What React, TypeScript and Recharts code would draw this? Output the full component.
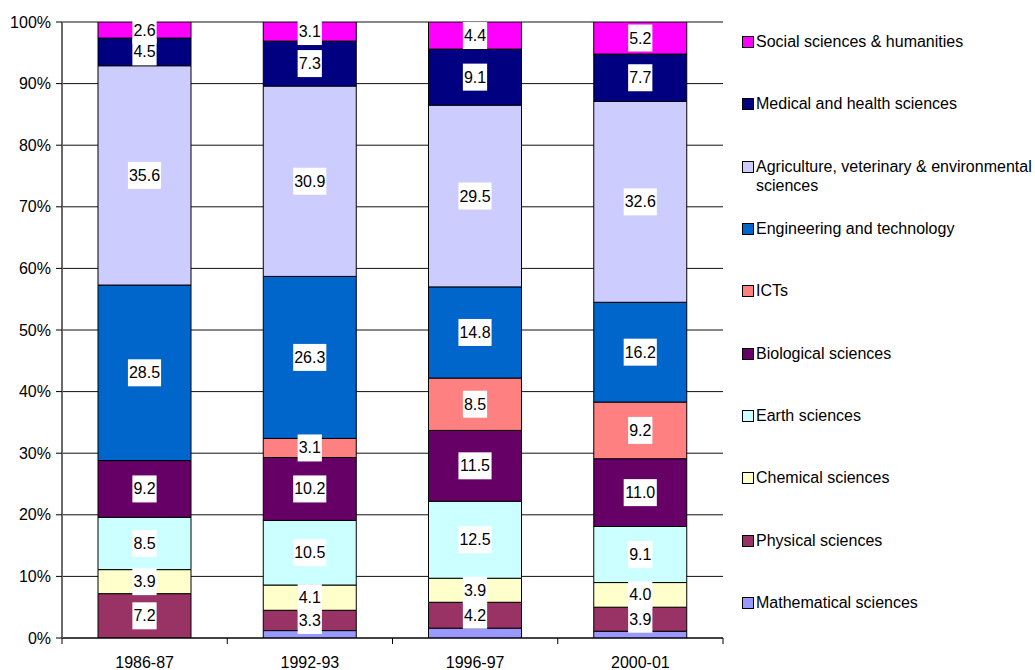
import { BarChart, Bar, XAxis, YAxis, CartesianGrid, LabelList } from "recharts";

const categories = ["1986-87", "1992-93", "1996-97", "2000-01"];

// percentage shares per period, bottom of stack first
const mathematical = [0, 1.2, 1.6, 1.1];
const physical = [7.2, 3.3, 4.2, 3.9];
const chemical = [3.9, 4.1, 3.9, 4.0];
const earth = [8.5, 10.5, 12.5, 9.1];
const biological = [9.2, 10.2, 11.5, 11.0];
const icts = [0, 3.1, 8.5, 9.2];
const engineering = [28.5, 26.3, 14.8, 16.2];
const agriculture = [35.6, 30.9, 29.5, 32.6];
const medical = [4.5, 7.3, 9.1, 7.7];
const social = [2.6, 3.1, 4.4, 5.2];

const yTicks = [0, 10, 20, 30, 40, 50, 60, 70, 80, 90, 100];

const series = [
  { key: "math", name: "Mathematical sciences", color: "#9999FF", values: mathematical, labels: false },
  { key: "phys", name: "Physical sciences", color: "#993366", values: physical, labels: true },
  { key: "chem", name: "Chemical sciences", color: "#FFFFCC", values: chemical, labels: true },
  { key: "earth", name: "Earth sciences", color: "#CCFFFF", values: earth, labels: true },
  { key: "bio", name: "Biological sciences", color: "#660066", values: biological, labels: true },
  { key: "ict", name: "ICTs", color: "#FF8080", values: icts, labels: true },
  { key: "eng", name: "Engineering and technology", color: "#0066CC", values: engineering, labels: true },
  { key: "agri", name: "Agriculture, veterinary & environmental sciences", color: "#CCCCFF", values: agriculture, labels: true },
  { key: "med", name: "Medical and health sciences", color: "#000080", values: medical, labels: true },
  { key: "soc", name: "Social sciences & humanities", color: "#FF00FF", values: social, labels: true },
];

const data = categories.map((cat, i) => {
  const row: Record<string, string | number> = { cat };
  series.forEach((s) => (row[s.key] = s.values[i]));
  return row;
});

const FONT = "'Liberation Sans', Arial, sans-serif";
const W = 1035;
const H = 670;
const MARGIN = { top: 22, right: 312, bottom: 0, left: 0 };
const Y_AXIS_W = 62;
const X_AXIS_H = 32;
const PLOT_W = W - MARGIN.left - MARGIN.right - Y_AXIS_W;

const textWidth = (s: string) =>
  s.split("").reduce((w, c) => w + (c === "." ? 0.278 : 0.556), 0) * 16;

const ValueLabel = (props: any) => {
  const { x, y, width, height, value } = props;
  if (!value) return null;
  const txt = Number(value).toFixed(1);
  const bw = textWidth(txt) + 2;
  const bh = 27;
  const cx = x + width / 2;
  const cy = y + height / 2;
  return (
    <g>
      <rect x={cx - bw / 2} y={cy - bh / 2} width={bw} height={bh} fill="#fff" />
      <text
        x={cx}
        y={cy}
        textAnchor="middle"
        dominantBaseline="central"
        fontSize={16}
        fontFamily={FONT}
        fill="#000"
      >
        {txt}
      </text>
    </g>
  );
};

const XTick = (props: any) => {
  const { x, y, payload, index } = props;
  const band = PLOT_W / categories.length;
  return (
    <g>
      <line x1={x - band / 2} x2={x - band / 2} y1={y} y2={y + 6} stroke="#000" />
      {index === categories.length - 1 && (
        <line x1={x + band / 2} x2={x + band / 2} y1={y} y2={y + 6} stroke="#000" />
      )}
      <text
        x={x}
        y={y + 24}
        textAnchor="middle"
        dominantBaseline="central"
        fontSize={16}
        fontFamily={FONT}
        fill="#000"
      >
        {payload.value}
      </text>
    </g>
  );
};

export default function App() {
  const legendItems = [...series].reverse();
  return (
    <div style={{ position: "absolute", left: 0, top: 0, width: W, height: H, background: "#fff" }}>
      <BarChart width={W} height={H} data={data} margin={MARGIN} barSize={93}>
        <CartesianGrid vertical={false} stroke="#111" />
        <XAxis
          dataKey="cat"
          height={X_AXIS_H}
          tickLine={false}
          tickSize={0}
          tickMargin={0}
          axisLine={{ stroke: "#000" }}
          tick={<XTick />}
          interval={0}
        />
        <XAxis xAxisId="top" orientation="top" dataKey="cat" height={0} tick={false} tickLine={false} axisLine={{ stroke: "#999" }} />
        <YAxis
          width={Y_AXIS_W}
          domain={[0, 100]}
          ticks={yTicks}
          tickFormatter={(v: number) => `${v}%`}
          tickSize={6}
          tickMargin={5}
          tickLine={{ stroke: "#000" }}
          axisLine={{ stroke: "#6a6a6a", strokeWidth: 2 }}
          tick={{ fontSize: 16, fontFamily: FONT, fill: "#000" }}
          allowDataOverflow
        />
        <YAxis yAxisId="right" orientation="right" width={0} domain={[0, 100]} tick={false} tickLine={false} axisLine={{ stroke: "#999" }} />
        {series.map((s) => (
          <Bar
            key={s.key}
            dataKey={s.key}
            name={s.name}
            stackId="a"
            fill={s.color}
            stroke="#000"
            strokeWidth={1}
            isAnimationActive={false}
          >
            {s.labels && <LabelList dataKey={s.key} content={<ValueLabel />} />}
          </Bar>
        ))}
      </BarChart>
      <div style={{ position: "absolute", left: 742, top: 0, width: 293, height: H, fontFamily: FONT, fontSize: 16 }}>
        {legendItems.map((s, i) => (
          <div
            key={s.key}
            style={{ position: "absolute", top: 41.5 + 62.35 * i - 9.5, left: 0, display: "flex", alignItems: "flex-start" }}
          >
            <div
              style={{
                width: 10,
                height: 10,
                marginTop: 4,
                background: s.color,
                border: "1px solid #000",
                flexShrink: 0,
              }}
            />
            <div style={{ marginLeft: 2, lineHeight: "19px", width: 279, color: "#000" }}>{s.name}</div>
          </div>
        ))}
      </div>
    </div>
  );
}
